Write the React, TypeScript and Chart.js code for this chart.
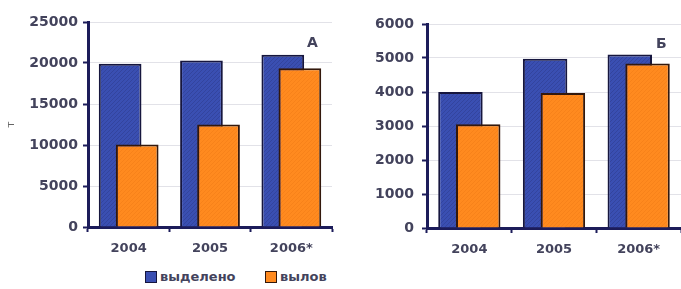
import React, { useEffect, useRef } from "react";
import { Chart, registerables } from "chart.js";

Chart.register(...registerables);

const categories = ["2004", "2005", "2006*"];
const seriesNames = ["выделено", "вылов"];
const allocatedA = [19900, 20300, 21000];
const catchA = [10050, 12500, 19350];
const allocatedB = [4000, 4980, 5100];
const catchB = [3050, 3970, 4840];
const yTicksA = { max: 25000, step: 5000 };
const yTicksB = { max: 6000, step: 1000 };

const FONT = "'DejaVu Sans', Verdana, sans-serif";
const TEXT = "#43435c";
const NAVY = "#1c1c5a";
const BLUE = "#3a4fb2";
const ORANGE = "#ff8a1f";

function makePattern(base: string, line: string): CanvasPattern | string {
  const c = document.createElement("canvas");
  c.width = 4;
  c.height = 4;
  const ctx = c.getContext("2d");
  if (!ctx) return base;
  ctx.fillStyle = base;
  ctx.fillRect(0, 0, 4, 4);
  ctx.fillStyle = line;
  for (let i = 0; i < 4; i++) ctx.fillRect(i, 3 - i, 1, 1);
  return ctx.createPattern(c, "repeat") || base;
}

// draw the second series (вылов) on top of the first one
const drawOnTop = {
  id: "drawOnTop",
  beforeDatasetDraw(_chart: any, args: any) {
    if (args.index === 1) return false;
  },
  afterDatasetsDraw(chart: any) {
    chart.getDatasetMeta(1).controller.draw();
  },
};

function makeOptions(yMax: number, yStep: number, opts: { yWidth: number; padTop: number; padRight: number; title: boolean; xHeight: number; yPad: number }) {
  return {
    responsive: false,
    animation: false as const,
    devicePixelRatio: 1,
    layout: { padding: { top: opts.padTop, right: opts.padRight, left: 0, bottom: 0 } },
    plugins: { legend: { display: false }, tooltip: { enabled: false } },
    datasets: { bar: { categoryPercentage: 0.42, barPercentage: 2.5 } },
    scales: {
      x: {
        grid: { display: true, drawOnChartArea: false, tickLength: 5, tickColor: NAVY, tickWidth: 2, offset: true },
        border: { color: NAVY, width: 3 },
        ticks: { color: TEXT, font: { family: FONT, size: 13, weight: "bold" as const }, padding: 9 },
        afterFit: (s: any) => { s.height = opts.xHeight; },
      },
      y: {
        min: 0,
        max: yMax,
        ticks: {
          stepSize: yStep,
          color: TEXT,
          font: { family: FONT, size: 14, weight: "bold" as const },
          padding: opts.yPad,
          callback: (v: any) => String(v),
        },
        grid: { color: "#e2e2e8", lineWidth: 1, tickLength: 5, tickColor: NAVY, tickWidth: 2 },
        border: { color: NAVY, width: 3 },
        title: opts.title
          ? { display: true, text: "т", color: "#666", font: { family: FONT, size: 11 }, padding: { top: 5, bottom: 0 } }
          : { display: false },
        afterFit: (s: any) => { s.width = opts.yWidth; },
      },
    },
  };
}

function BarChart(props: { a: number[]; b: number[]; yMax: number; yStep: number; width: number; height: number; o: any }) {
  const ref = useRef<HTMLCanvasElement>(null);
  useEffect(() => {
    if (!ref.current) return;
    const chart = new Chart(ref.current, {
      type: "bar",
      data: {
        labels: categories,
        datasets: [
          { label: seriesNames[0], data: props.a, backgroundColor: makePattern(BLUE, "#33449e"), borderColor: "#16163e", borderWidth: 2 },
          { label: seriesNames[1], data: props.b, backgroundColor: makePattern(ORANGE, "#f7821a"), borderColor: "#33180c", borderWidth: 2 },
        ],
      },
      options: makeOptions(props.yMax, props.yStep, props.o) as any,
      plugins: [drawOnTop],
    });
    return () => chart.destroy();
  }, []);
  return <canvas ref={ref} width={props.width} height={props.height} style={{ width: props.width, height: props.height, display: "block" }} />;
}

const labelStyle: React.CSSProperties = {
  position: "absolute",
  fontFamily: FONT,
  fontWeight: "bold",
  color: TEXT,
  fontSize: 13,
  lineHeight: "14px",
  whiteSpace: "nowrap",
};

export default function App() {
  return (
    <div style={{ position: "absolute", left: 0, top: 0, width: 681, height: 289, background: "#fff", overflow: "hidden" }}>
      <div style={{ position: "absolute", left: 0, top: 0 }}>
        <BarChart a={allocatedA} b={catchA} yMax={yTicksA.max} yStep={yTicksA.step} width={340} height={262}
          o={{ yWidth: 88, padTop: 22, padRight: 8, title: true, xHeight: 35, yPad: 5 }} />
      </div>
      <div style={{ position: "absolute", left: 340, top: 0 }}>
        <BarChart a={allocatedB} b={catchB} yMax={yTicksB.max} yStep={yTicksB.step} width={341} height={262}
          o={{ yWidth: 87, padTop: 24, padRight: 0, title: false, xHeight: 34, yPad: 8 }} />
      </div>
      <span style={{ ...labelStyle, fontSize: 14, left: 307, top: 35 }}>А</span>
      <span style={{ ...labelStyle, fontSize: 14, left: 656, top: 36 }}>Б</span>
      <div style={{ position: "absolute", left: 145, top: 271, width: 10, height: 10, background: BLUE, border: "1.5px solid #16163e" }} />
      <span style={{ ...labelStyle, left: 160, top: 270 }}>{seriesNames[0]}</span>
      <div style={{ position: "absolute", left: 265, top: 271, width: 10, height: 10, background: ORANGE, border: "1.5px solid #33180c" }} />
      <span style={{ ...labelStyle, left: 280, top: 270 }}>{seriesNames[1]}</span>
    </div>
  );
}
